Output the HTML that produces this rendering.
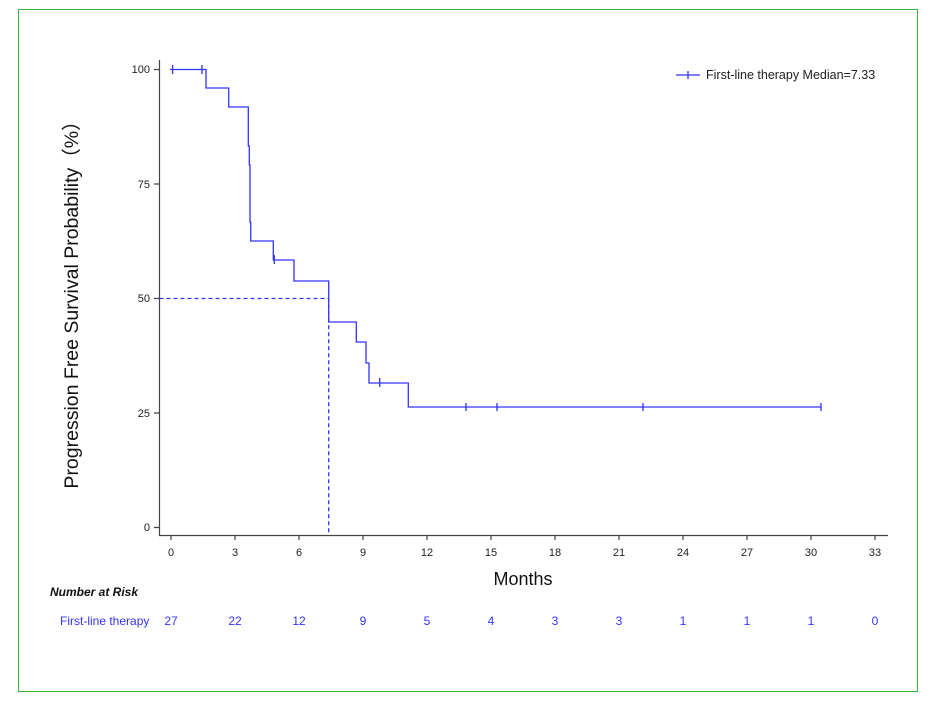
<!DOCTYPE html>
<html><head><style>body{margin:0;background:#fff}svg{display:block}text{font-family:"Liberation Sans","Noto Sans CJK SC",sans-serif}</style></head><body>
<svg width="936" height="709" xmlns="http://www.w3.org/2000/svg">
<rect x="18.5" y="9.5" width="899" height="682" fill="none" stroke="#3cb43c" stroke-width="1"/>
<g stroke="#444" stroke-width="1.2" fill="none">
<path d="M159.5 60V535.5H888"/>
<path d="M154 69.5h5M154 184h5M154 298.5h5M154 413h5M154 527.5h5"/>
<path d="M171 535v5M235 535v5M299 535v5M363 535v5M427 535v5M491 535v5M555 535v5M619 535v5M683 535v5M747 535v5M811 535v5M875 535v5"/>
</g>
<g font-size="11" fill="#222" text-anchor="end">
<text x="150" y="73">100</text><text x="150" y="188">75</text><text x="150" y="302">50</text><text x="150" y="417">25</text><text x="150" y="531">0</text>
</g>
<g font-size="11" fill="#222" text-anchor="middle">
<text x="171" y="556">0</text><text x="235" y="556">3</text><text x="299" y="556">6</text><text x="363" y="556">9</text><text x="427" y="556">12</text><text x="491" y="556">15</text><text x="555" y="556">18</text><text x="619" y="556">21</text><text x="683" y="556">24</text><text x="747" y="556">27</text><text x="811" y="556">30</text><text x="875" y="556">33</text>
</g>
<text x="523" y="585" font-size="18" text-anchor="middle" fill="#111">Months</text>
<text transform="translate(78,300) rotate(-90)" font-size="19.5" text-anchor="middle" fill="#111">Progression Free Survival Probability（%）</text>
<g stroke="#3333ff" stroke-width="1.3" fill="none">
<path d="M170 69.5H206V88H228.7V107H248.3V146H249.3V165H250V222H250.7V241H273.3V260H294V281H328.7V322H356.3V342H366V363H369V383H408.3V407H821"/>
<path d="M172.6 65v9M202 65v9M274.3 255v9M379.7 378v9M466 403v8M497 403v8M643 403v8M821 403v8"/>
<path d="M159.5 298.5H328.7V535" stroke-dasharray="4,3"/>
<path d="M676 75h24M688 71v8"/>
</g>
<text x="706" y="79" font-size="12.5" fill="#222">First-line therapy Median=7.33</text>
<text x="50" y="596" font-size="12" font-weight="bold" font-style="italic" fill="#111">Number at Risk</text>
<g font-size="12" fill="#3333ff" text-anchor="middle">
<text x="60" y="625" text-anchor="start">First-line therapy</text>
<text x="171" y="625">27</text><text x="235" y="625">22</text><text x="299" y="625">12</text><text x="363" y="625">9</text><text x="427" y="625">5</text><text x="491" y="625">4</text><text x="555" y="625">3</text><text x="619" y="625">3</text><text x="683" y="625">1</text><text x="747" y="625">1</text><text x="811" y="625">1</text><text x="875" y="625">0</text>
</g>
</svg>
</body></html>
